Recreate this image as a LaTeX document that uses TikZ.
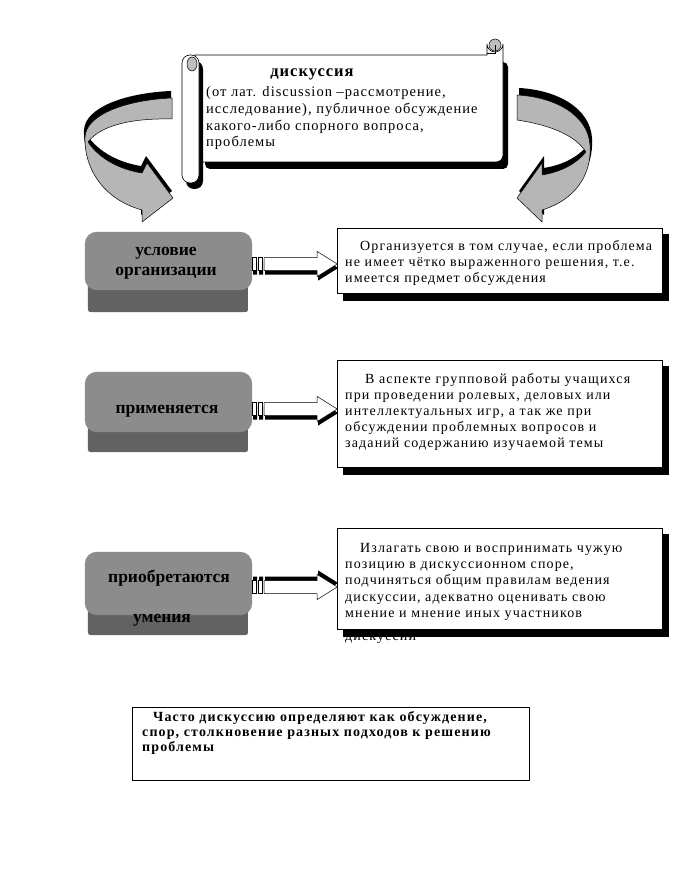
\documentclass[tikz,border=0pt]{standalone}
\usepackage{fontspec}
\setmainfont{Liberation Serif}
\usetikzlibrary{calc}
\definecolor{btnface}{RGB}{140,140,140}
\definecolor{btndark}{RGB}{98,98,98}
\definecolor{btnrim}{RGB}{190,190,190}
\definecolor{ribbon}{RGB}{182,182,182}
\definecolor{curlgray}{RGB}{190,190,190}
\pgfdeclarehorizontalshading{btnshade}{100bp}{color(0bp)=(btnrim); color(7bp)=(btndark); color(93bp)=(btndark); color(100bp)=(btnrim)}
% block arrow in local coordinates (tail at 0, centre line at 0, y downwards)
\newcommand\blkarrow[1]{%
  \fill[black,shift={(1,#1)}] (0,-6.5) rectangle (4,6.5) (6,-6.5) rectangle (10,6.5)
     (12,-6.5) -- (65,-6.5) -- (65,-12.5) -- (85,0) -- (65,12.5) -- (65,6.5) -- (12,6.5) -- cycle;
  \filldraw[fill=white,draw=black,line width=0.5pt] (0,-6.5) rectangle (4,6.5) (6,-6.5) rectangle (10,6.5);
  \filldraw[fill=white,draw=black,line width=0.5pt]
     (12,-6.5) -- (65,-6.5) -- (65,-12.5) -- (85,0) -- (65,12.5) -- (65,6.5) -- (12,6.5) -- cycle;}
\begin{document}
\begin{tikzpicture}[x=1pt,y=-1pt,
  rbox/.style={draw=black,line width=0.6pt,fill=white,inner sep=0pt,anchor=north west},
  rtext/.style={font=\fontsize{14}{16.4}\selectfont\addfontfeature{LetterSpace=8},align=left,inner sep=0pt,anchor=base west},
  stext/.style={font=\fontsize{14.5}{16.7}\selectfont\addfontfeature{LetterSpace=7},align=left,inner sep=0pt,anchor=base west},
  btext/.style={font=\fontsize{17.5}{20}\selectfont\bfseries,inner sep=0pt,anchor=base},
  btn/.style={inner sep=0pt,minimum width=167pt,minimum height=#1},
  ribbonstyle/.style={fill=ribbon,draw=black,line width=0.5pt,line join=round}]
\useasboundingbox (0,0) rectangle (673,877);
\fill[white] (0,0) rectangle (673,877);

% ---------- scroll ----------
\fill[black,rounded corners=5pt] (205,62) rectangle (508,169);
\filldraw[fill=white,draw=black,line width=0.6pt] (195,55) -- (487,55) -- (487,44) arc (180:0:8) -- (503,155) arc (0:90:7) -- (195,162) -- cycle;
\filldraw[fill=curlgray,draw=black,line width=0.5pt] (495,45) circle (6);
\draw[line width=0.5pt] (487,53) -- (495,53) -- (495,45);
\fill[black,rounded corners=8pt] (186,61) rectangle (203,189);
\filldraw[fill=white,draw=black,line width=0.6pt,rounded corners=8pt] (182,55) rectangle (199,183);
\filldraw[fill=curlgray,draw=black,line width=0.5pt] (192,64) ellipse (5 and 7);
\node[font=\fontsize{16.5}{18}\selectfont\bfseries\addfontfeature{LetterSpace=6},inner sep=0pt,anchor=base] (title) at (312,77) {дискуссия};
% multi-line nodes: base = baseline of the last line
\node[stext] (def) at (206,147) {(от лат. discussion –рассмотрение,\\исследование), публичное обсуждение\\какого-либо спорного вопроса,\\проблемы};

% ---------- left curved arrow ----------
\fill[black,shift={(-1,-7)}] (172,98) -- (172,119)
  .. controls (130,118) and (100,126) .. (88,142)
  .. controls (100,160) and (122,170) .. (142,173)
  -- (147,163) -- (173,198) -- (142,222) -- (142,210)
  .. controls (105,200) and (84,170) .. (85,137)
  .. controls (86,115) and (125,100) .. (172,98) -- cycle;
\filldraw[ribbonstyle] (172,98) -- (172,119)
  .. controls (130,118) and (100,126) .. (88,142)
  .. controls (100,160) and (122,170) .. (142,173)
  -- (147,163) -- (173,198) -- (142,222) -- (142,210)
  .. controls (105,200) and (84,170) .. (85,137)
  .. controls (86,115) and (125,100) .. (172,98) -- cycle;

% ---------- right curved arrow ----------
\fill[black,shift={(2,-7)}] (517,95) -- (517,120)
  .. controls (550,125) and (575,135) .. (586,152)
  .. controls (575,165) and (560,172) .. (542,175)
  -- (542,163) -- (517,198) -- (542,222) -- (542,210)
  .. controls (575,200) and (592,175) .. (590,145)
  .. controls (588,115) and (555,97) .. (517,95) -- cycle;
\filldraw[ribbonstyle] (517,95) -- (517,120)
  .. controls (550,125) and (575,135) .. (586,152)
  .. controls (575,165) and (560,172) .. (542,175)
  -- (542,163) -- (517,198) -- (542,222) -- (542,210)
  .. controls (575,200) and (592,175) .. (590,145)
  .. controls (588,115) and (555,97) .. (517,95) -- cycle;

% ---------- left buttons ----------
\node[btn=80pt] (b1) at (168.5,272) {};
\node[btn=80pt] (b2) at (168.5,412) {};
\node[btn=83pt] (b3) at (168.5,593.5) {};
\foreach \b/\h in {b1/22,b2/20,b3/20}{
  \shade[shading=btnshade,rounded corners=3pt] ($(\b.south west)+(3,-30)$) rectangle ($(\b.south east)+(-4,0)$);
  \fill[btnface,rounded corners=12pt] (\b.north west) rectangle ($(\b.south east)+(0,-\h)$);
}
\node[btext] (b1a) at (166,255) {условие};
\node[btext] (b1b) at (166,275) {организации};
\node[btext] (b2a) at (167,413) {применяется};
\node[btext] (b3a) at (169,582) {приобретаются};
\node[btext] (b3b) at (162,622) {умения};

% ---------- right boxes ----------
\node[rbox,minimum width=325pt,minimum height=65pt] (r1) at (337,228) {};
\node[rbox,minimum width=325pt,minimum height=107pt] (r2) at (337,360) {};
\node[rbox,minimum width=325pt,minimum height=101pt] (r3) at (337,528) {};
\node[rtext] (t1) at (345,282.8) {\hspace*{15pt}Организуется в том случае, если проблема\\не имеет чётко выраженного решения, т.е.\\имеется предмет обсуждения};
\node[rtext,font=\fontsize{14}{16.2}\selectfont\addfontfeature{LetterSpace=8}] (t2) at (345,447.8) {\hspace*{20pt}В аспекте групповой работы учащихся\\при проведении ролевых, деловых или\\интеллектуальных игр, а так же при\\обсуждении проблемных вопросов и\\заданий содержанию изучаемой темы};
\node[rtext] (t3) at (345,617.6) {\hspace*{15pt}Излагать свою и воспринимать чужую\\позицию в дискуссионном споре,\\подчиняться общим правилам ведения\\дискуссии, адекватно оценивать свою\\мнение и мнение иных участников};
\node[rtext] (t3b) at (345,640) {дискуссии};
\foreach \r in {r1,r2,r3}{
  \fill[black] ($(\r.north east)+(0,6)$) rectangle ($(\r.south east)+(6,6)$);
  \fill[black] ($(\r.south west)+(6,0)$) rectangle ($(\r.south east)+(6,7)$);
  \draw[line width=0.6pt] (\r.north west) rectangle (\r.south east);
}

% ---------- connectors ----------
\begin{scope}[shift={($(b1.east)+(0,-8)$)}] \blkarrow{4} \end{scope}
\begin{scope}[shift={($(b2.east)+(0,-3)$)}] \blkarrow{4} \end{scope}
\begin{scope}[shift={($(b3.east)+(0,-6.5)$)}] \blkarrow{-4} \end{scope}

% ---------- bottom box ----------
\node[rbox,minimum width=397pt,minimum height=73pt] (bb) at (132,707) {};
\node[rtext,font=\fontsize{14}{15}\selectfont\bfseries\addfontfeature{LetterSpace=8}] (tb) at (142,751) {\hspace*{11pt}Часто дискуссию определяют как обсуждение,\\спор, столкновение разных подходов к решению\\проблемы};
\end{tikzpicture}
\end{document}
